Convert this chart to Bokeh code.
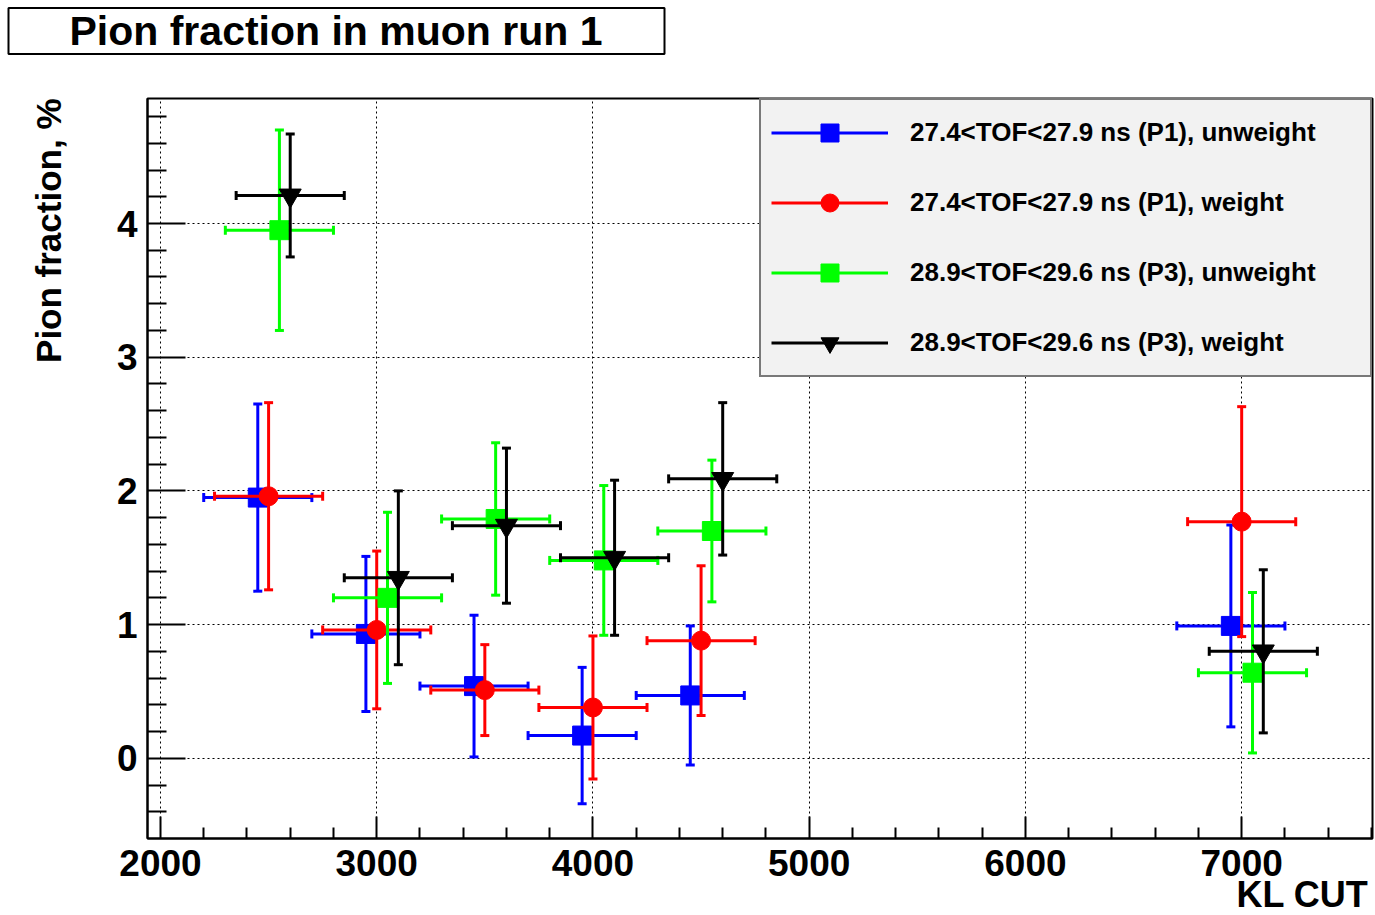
import numpy as np
from bokeh.plotting import figure
from bokeh.models import Range1d, FixedTicker, Legend, LegendItem, ColumnDataSource, Title
from bokeh.embed import file_html
from bokeh.resources import INLINE

FONT = "Liberation Sans"

# ---------------- data ----------------
title_text = "Pion fraction in muon run 1"
x_label = "KL CUT"
y_label = "Pion fraction, %"

x_ticks = [2000, 3000, 4000, 5000, 6000, 7000]
x_minor_ticks = [2200, 2400, 2600, 2800, 3200, 3400, 3600, 3800, 4200, 4400, 4600, 4800,
                 5200, 5400, 5600, 5800, 6200, 6400, 6600, 6800, 7200, 7400, 7600]
y_ticks = [0, 1, 2, 3, 4]
y_minor_ticks = [-0.4, -0.2, 0.2, 0.4, 0.6, 0.8, 1.2, 1.4, 1.6, 1.8, 2.2, 2.4, 2.6, 2.8,
                 3.2, 3.4, 3.6, 3.8, 4.2, 4.4, 4.6, 4.8]

series_labels = [
    "27.4<TOF<27.9 ns (P1), unweight",
    "27.4<TOF<27.9 ns (P1), weight",
    "28.9<TOF<29.6 ns (P3), unweight",
    "28.9<TOF<29.6 ns (P3), weight",
]

x_p1_unweight = [2450, 2950, 3450, 3950, 4450, 6950]
y_p1_unweight = [1.95, 0.93, 0.54, 0.17, 0.47, 0.99]
ey_p1_unweight = [0.70, 0.58, 0.53, 0.51, 0.52, 0.755]

x_p1_weight = [2500, 3000, 3500, 4000, 4500, 7000]
y_p1_weight = [1.96, 0.96, 0.51, 0.38, 0.88, 1.77]
ey_p1_weight = [0.70, 0.59, 0.34, 0.535, 0.56, 0.86]

x_p3_unweight = [2550, 3050, 3550, 4050, 4550, 7050]
y_p3_unweight = [3.95, 1.20, 1.79, 1.48, 1.70, 0.64]
ey_p3_unweight = [0.75, 0.64, 0.57, 0.56, 0.53, 0.60]

x_p3_weight = [2600, 3100, 3600, 4100, 4600, 7100]
y_p3_weight = [4.21, 1.35, 1.74, 1.50, 2.09, 0.80]
ey_p3_weight = [0.46, 0.65, 0.58, 0.58, 0.57, 0.61]

ex_all = [250, 250, 250, 250, 250, 250]

# ---------------- styles ----------------
colors = ["#0000ff", "#ff0000", "#00ff00", "#000000"]
markers = ["square", "circle", "square", "inverted_triangle"]
marker_sizes = [19, 19, 19, 22]

series = [
    (x_p1_unweight, y_p1_unweight, ey_p1_unweight),
    (x_p1_weight, y_p1_weight, ey_p1_weight),
    (x_p3_unweight, y_p3_unweight, ey_p3_unweight),
    (x_p3_weight, y_p3_weight, ey_p3_weight),
]

# ---------------- main plot ----------------
p = figure(width=1375, height=915,
           x_range=Range1d(1940, 7605), y_range=Range1d(-0.6, 4.935),
           output_backend="svg", toolbar_location=None,
           min_border_left=147, min_border_right=3, min_border_top=98, min_border_bottom=77)
p.outline_line_color = "black"
p.outline_line_width = 2
p.background_fill_color = "white"

# spacer between the title box and the frame (keeps the title box at the top)
p.add_layout(Title(text=" ", text_font=FONT, text_font_size="10px", standoff=26), "above")

# title box
p.title.text = title_text
p.title.align = "left"
p.title.vertical_align = "middle"
p.title.offset = -139
p.title.standoff = 9
p.title.text_font = FONT
p.title.text_font_size = "41px"
p.title.text_font_style = "bold"
p.title.text_color = "black"
p.title.border_line_color = "black"
p.title.border_line_width = 2
p.title.background_fill_color = "white"
try:
    p.title.padding = dict(left=61, right=62, top=0, bottom=0)
except Exception:
    try:
        p.title.padding = (61, 0)
    except Exception:
        pass

p.xaxis.ticker = FixedTicker(ticks=x_ticks, minor_ticks=x_minor_ticks)
p.yaxis.ticker = FixedTicker(ticks=y_ticks, minor_ticks=y_minor_ticks)
for ax in (p.xaxis[0], p.yaxis[0]):
    ax.axis_line_width = 2
    ax.axis_line_color = "black"
    ax.major_tick_out = 0
    ax.minor_tick_out = 0
    ax.major_tick_line_width = 2
    ax.minor_tick_line_width = 2
    ax.major_tick_line_color = "black"
    ax.minor_tick_line_color = "black"
    ax.major_label_text_font = FONT
    ax.major_label_text_font_size = "37px"
    ax.major_label_text_font_style = "bold"
    ax.major_label_text_color = "black"
p.xaxis.major_tick_in = 22
p.xaxis.minor_tick_in = 11
p.yaxis.major_tick_in = 38
p.yaxis.minor_tick_in = 19
p.xaxis.major_label_standoff = 11
p.yaxis.major_label_standoff = 10

# y axis title: spacer next to the tick labels, then the title (top aligned)
p.add_layout(Title(text=" ", text_font=FONT, text_font_size="10px", standoff=32), "left")
p.add_layout(Title(text=y_label, align="right", vertical_align="middle", offset=0, standoff=0,
                   text_font=FONT, text_font_size="35px", text_font_style="bold",
                   text_color="black"), "left")
# x axis title (right aligned)
p.add_layout(Title(text=x_label, align="right", vertical_align="top", offset=4, standoff=-10,
                   text_font=FONT, text_font_size="36px", text_font_style="bold",
                   text_color="black"), "below")

p.grid.grid_line_color = "black"
p.grid.grid_line_dash = "2 3"
p.grid.grid_line_width = 1

items = []
for (xs, ys, eys), col, mk, ms, lab in zip(series, colors, markers, marker_sizes, series_labels):
    xs = np.array(xs, dtype=float)
    ys = np.array(ys, dtype=float)
    eys = np.array(eys, dtype=float)
    exs = np.array(ex_all, dtype=float)
    src = ColumnDataSource(dict(x=xs, y=ys, lo=ys - eys, hi=ys + eys, left=xs - exs, right=xs + exs))
    hseg = p.segment(x0="left", y0="y", x1="right", y1="y", source=src, line_color=col, line_width=3)
    p.segment(x0="x", y0="lo", x1="x", y1="hi", source=src, line_color=col, line_width=3)
    p.scatter(x="x", y="lo", source=src, marker="dash", size=9, line_color=col, line_width=3)
    p.scatter(x="x", y="hi", source=src, marker="dash", size=9, line_color=col, line_width=3)
    p.scatter(x="left", y="y", source=src, marker="dash", angle=np.pi / 2, size=9, line_color=col, line_width=3)
    p.scatter(x="right", y="y", source=src, marker="dash", angle=np.pi / 2, size=9, line_color=col, line_width=3)
    mr = p.scatter(x="x", y="y", source=src, marker=mk, size=ms, fill_color=col, line_color=col)
    items.append(LegendItem(label=lab, renderers=[hseg, mr]))

legend = Legend(items=items, location="top_right", margin=0, padding=10, spacing=25,
                glyph_width=117, glyph_height=45, label_standoff=22, label_width=450,
                label_text_font=FONT, label_text_font_size="26px", label_text_font_style="bold",
                label_text_color="black", label_text_baseline="middle",
                background_fill_color="#f2f2f2", background_fill_alpha=1.0,
                border_line_color="black", border_line_width=2)
p.add_layout(legend)

open("out.html", "w").write(file_html(p, INLINE))
